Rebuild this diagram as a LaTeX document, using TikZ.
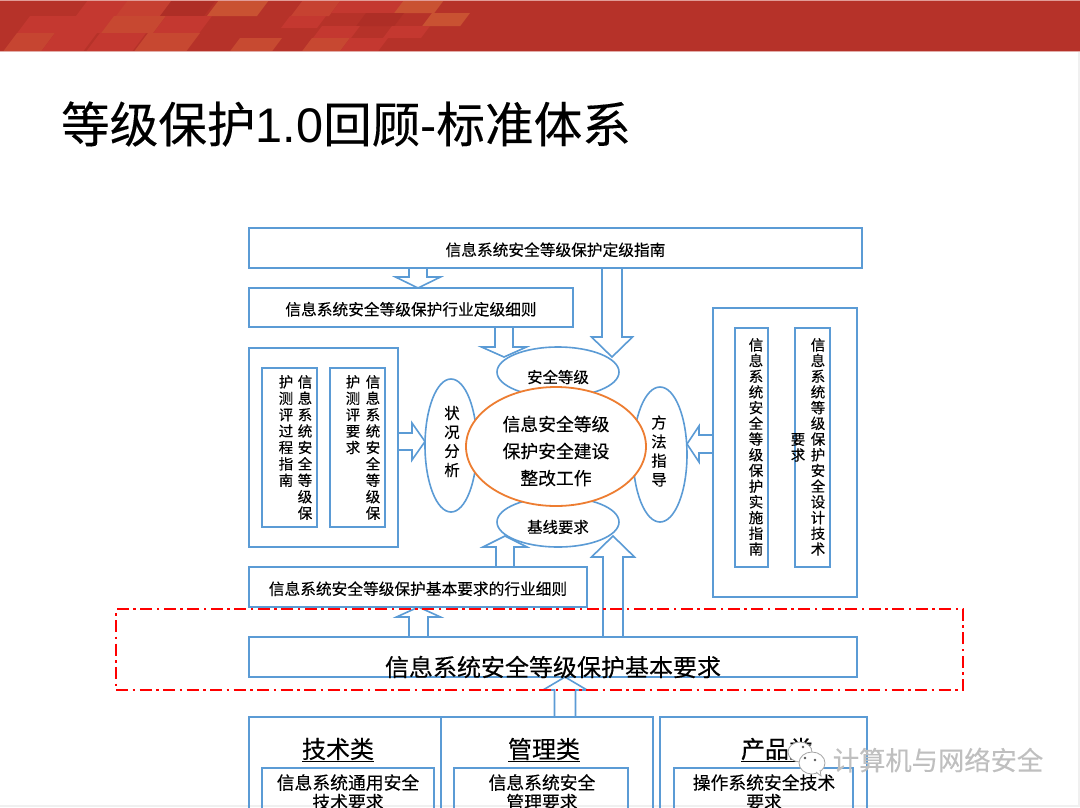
\documentclass[tikz,border=0pt]{standalone}
\usepackage{fontspec}
\usetikzlibrary{calc,shapes.geometric,backgrounds}
\setmainfont{Noto Sans CJK SC}[FakeBold=0.25]
\newfontfamily\latinfont{Liberation Sans}
\XeTeXlinebreaklocale "zh"
\XeTeXlinebreakskip=0pt plus 1pt
\definecolor{boxblue}{RGB}{91,155,213}
\definecolor{coreorange}{RGB}{237,125,49}
\definecolor{dashred}{RGB}{255,0,0}
\definecolor{bandbase}{RGB}{182,50,41}
\definecolor{R}{RGB}{196,56,48}
\definecolor{O}{RGB}{201,82,50}
\definecolor{D}{RGB}{174,46,38}
\newcommand{\fs}[2]{\fontsize{#1}{#2}\selectfont}
\newcommand{\bandtile}[5]{\fill[#5] (#1,#2)--++(#3,0)--++(-.75*#4,#4)--++(-#3,0)--cycle;}
\newcommand{\blockarrow}[5]{
    \coordinate (ba) at (#1);
    \coordinate (bb) at (#2);
    \coordinate (bn) at ($(bb)!#5!(ba)$);
    \draw[arrowline] ($(ba)!#3!90:(bb)$)--($(bn)!#3!90:(bb)$)--($(bn)!#4!90:(bb)$)--(bb)
      --($(bn)!#4!-90:(bb)$)--($(bn)!#3!-90:(bb)$)--($(ba)!#3!-90:(bb)$);
}
\tikzset{
  infobox/.style={draw=boxblue,line width=1.6pt,inner sep=0pt,outer sep=0pt,align=center},
  lowtext/.style={text height=17.5pt,text depth=2pt,font=\fs{15.7}{18}},
  arrowline/.style={draw=boxblue,line width=1.6pt,fill=white,line join=miter},
  blueoval/.style={ellipse,draw=boxblue,line width=1.6pt,fill=white,inner sep=0pt,outer sep=0pt},
  coreoval/.style={ellipse,draw=coreorange,line width=1.8pt,fill=white,inner sep=0pt,outer sep=0pt},
  vcol/.style={inner sep=0pt,anchor=north,text width=15pt,align=center,font=\fs{14.5}{#1}},
  vcol/.default=16.4,
  label/.style={inner sep=0pt},
}
\begin{document}
\begin{tikzpicture}[x=1pt,y=-1pt]
\useasboundingbox (0,0) rectangle (1080,807);
\clip (0,0) rectangle (1080,807);
\begin{scope}[on background layer]
\fill[white] (0,0) rectangle (1080,807);
\end{scope}
\fill[black!6] (1078,0) rectangle (1080,807);
\fill[black!6] (0,805) rectangle (1080,807);
\fill[bandbase] (0,0) rectangle (1080,51);
\foreach \tx/\ty/\tw/\th/\tc in {
  88/0/50/16/R,128/0/54/16/R!70!O,172/0/44/16/D,219/0/50/16/O,303/0/38/16/R!60!O,341/0/64/13/R,404/0/40/13/O,
  30/16/85/17/R,114/16/52/17/R!40!O,166/16/46/17/R,290/16/36/12/R,366/13/38/13/D,432/13/38/13/O,
  322/26/38/12/R,392/26/38/12/R,
  17/33/38/18/R!50!O,55/33/42/18/R,100/33/46/18/R,148/33/52/18/R!40!O,
  240/38/42/13/R!30!O,312/38/38/13/R!40!O,350/38/38/13/R}{
  \bandtile{\tx}{\ty}{\tw}{\th}{\tc}
}
\fill[white!50!R] (0,0) rectangle (1080,1);
\fill[white!60!bandbase] (0,50.5) rectangle (1080,51.5);
\node[label,font=\fs{48.6}{50}] (title) at (346,124) {等级保护{\latinfont 1.0}回顾{\latinfont -}标准体系};

\node[infobox,lowtext,minimum width=613pt,minimum height=40pt] (dingji) at (555.5,248) {信息系统安全等级保护定级指南};
\node[infobox,lowtext,minimum width=324pt,minimum height=39pt] (hangye) at (411,307.5) {信息系统安全等级保护行业定级细则};
\node[infobox,minimum width=149pt,minimum height=199pt] (leftbox) at (323.5,447.5) {};
\node[infobox,minimum width=55pt,minimum height=159pt] (guocheng) at (289.5,447.5) {};
\node[infobox,minimum width=55pt,minimum height=159pt] (ceping) at (357.5,447.5) {};
\node[vcol] (guochengr) at (305,375) {信息系统安全等级保};
\node[vcol] (guochengl) at (286,375) {护测评过程指南};
\node[vcol] (cepingr) at (373,375) {信息系统安全等级保};
\node[vcol] (cepingl) at (353,375) {护测评要求};
\node[infobox,minimum width=144pt,minimum height=289pt] (rightbox) at (785,452.5) {};
\node[infobox,minimum width=33pt,minimum height=239pt] (shishi) at (751.5,447.5) {};
\node[infobox,minimum width=35pt,minimum height=239pt] (sheji) at (812.5,447.5) {};
\node[vcol=15.7] (shishitext) at (756,338) {信息系统安全等级保护实施指南};
\node[vcol=15.7] (shejitext) at (818,338) {信息系统等级保护安全设计技术};
\node[vcol=15.7] (shejitail) at (798,433) {要求};
\node[infobox,lowtext,minimum width=338pt,minimum height=40pt] (xijie) at (418,587) {信息系统安全等级保护基本要求的行业细则};
\node[infobox,minimum width=608pt,minimum height=40pt] (jiben) at (553,657) {};
\node[label,font=\fs{24}{26}] (jibentext) at (553,667) {信息系统安全等级保护基本要求};
\node[blueoval,minimum width=52pt,minimum height=133pt] (zhuangkuang) at (451,445.5) {};
\node[blueoval,minimum width=54pt,minimum height=135pt] (fangfa) at (660,454.5) {};
\node[blueoval,minimum width=122pt,minimum height=50pt] (dengji) at (558,372) {};
\node[blueoval,minimum width=122pt,minimum height=50pt] (jixian) at (558,522) {};
\node[coreoval,minimum width=180pt,minimum height=119pt] (core) at (556,446.5) {};
\node[label,align=center,font=\fs{17.8}{27}] (coretext) at (556,451) {信息安全等级\\保护安全建设\\整改工作};
\node[label,font=\fs{15.4}{18}] (dengjitext) at (558,377) {安全等级};
\node[label,font=\fs{15.4}{18}] (jixiantext) at (558,527) {基线要求};
\node[label,align=center,text width=16pt,font=\fs{15.4}{19}] (zhuangkuangtext) at (452,441.5) {状况分析};
\node[label,align=center,text width=16pt,font=\fs{15.4}{19}] (fangfatext) at (659,451) {方法指导};

\node[infobox,anchor=north west,minimum width=192pt,minimum height=120pt] (jishu) at (249,717) {};
\node[infobox,anchor=north west,minimum width=212pt,minimum height=120pt] (guanli) at (441,717) {};
\node[infobox,anchor=north west,minimum width=207pt,minimum height=120pt] (chanpin) at (660,717) {};
\node[infobox,anchor=north west,minimum width=172pt,minimum height=80pt] (jishuin) at (262,768) {};
\node[infobox,anchor=north west,minimum width=174pt,minimum height=80pt] (guanliin) at (454,768) {};
\node[infobox,anchor=north west,minimum width=179pt,minimum height=80pt] (chanpinin) at (674,768) {};
\node[label,font=\fs{24}{26}] (jishutitle) at (338,750) {\underline{技术类}};
\node[label,font=\fs{24}{26}] (guanlititle) at (544,750) {\underline{管理类}};
\node[label,font=\fs{24}{26}] (chanpintitle) at (777,750) {\underline{产品类}};
\node[label,align=center,anchor=north,font=\fs{17.8}{19.5}] (jishutext) at (348,774) {信息系统通用安全\\技术要求};
\node[label,align=center,anchor=north,font=\fs{17.8}{19.5}] (guanlitext) at (542,774) {信息系统安全\\管理要求};
\node[label,align=center,anchor=north,font=\fs{17.8}{19.5}] (chanpintext) at (764,774) {操作系统安全技术\\要求};

\begin{scope}[on background layer]
\blockarrow{418,0 |- dingji.south}{418,0 |- hangye.north}{9pt}{22.5pt}{11pt}
\blockarrow{612,0 |- dingji.south}{612,357}{10pt}{20.5pt}{20pt}
\blockarrow{504,0 |- hangye.south}{504,357}{9pt}{22.5pt}{10pt}
\blockarrow{leftbox.east |- 0,441.5}{zhuangkuang.west |- 0,441.5}{8.5pt}{18.5pt}{13pt}
\blockarrow{rightbox.west |- 0,444}{fangfa.east |- 0,444}{9pt}{18pt}{12pt}
\blockarrow{505,0 |- xijie.north}{505,536}{9pt}{22pt}{11pt}
\blockarrow{613,0 |- jiben.north}{613,536}{10pt}{21.5pt}{21pt}
\blockarrow{418.5,0 |- jiben.north}{418.5,0 |- xijie.south}{9.5pt}{22pt}{10pt}
\blockarrow{565,0 |- jishu.north}{565,0 |- jiben.south}{10.5pt}{22pt}{13pt}
\end{scope}

\node[draw=dashred,line width=1.6pt,dash pattern=on 12pt off 4.5pt on 2.5pt off 4.5pt,minimum width=847pt,minimum height=81pt,inner sep=0pt] (focus) at (539.5,649.5) {};

\draw[black!35,fill=white,line width=.8pt] (800,752) ellipse [x radius=12,y radius=10];
\draw[black!35,fill=white,line width=.8pt] (812,763) ellipse [x radius=13,y radius=11];
\draw[black!35,fill=white,line width=.8pt] (816,772)--++(5,4)--++(-1,-6);
\fill[black!65] (803,747) circle (1.3) (810,745) circle (1.3) (805,758) circle (1.3) (815,760) circle (1.3);
\node[label,text=black!25,font=\fs{26.3}{28}] (watermark) at (938,760) {计算机与网络安全};
\end{tikzpicture}
\end{document}
